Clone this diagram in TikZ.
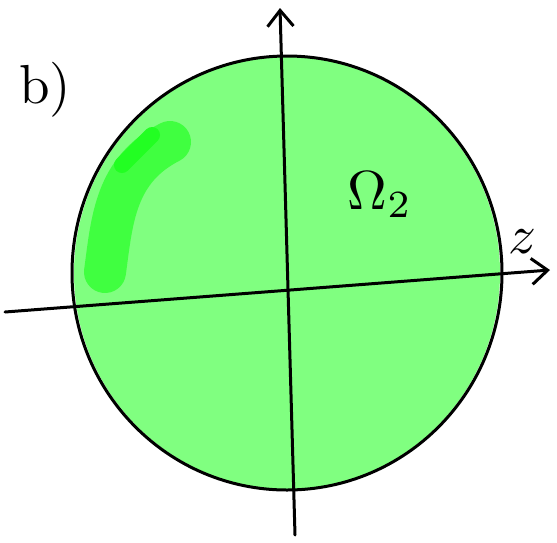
\documentclass[tikz,border=0pt]{standalone}
\usepackage{tikz}
\usetikzlibrary{arrows.meta}

\definecolor{paleGreen}{HTML}{80FF80}
\definecolor{midGreen}{HTML}{40FF40}
\definecolor{deepGreen}{HTML}{22FF22}
\newcommand{\handsize}[1]{\scalebox{5.5}{#1}}

\begin{document}
\begin{tikzpicture}[x=1pt,y=-1pt,>={Straight Barb[length=16pt,width=26pt,line width=3pt]},
axis/.style={draw,line width=3pt,line cap=round,->},
ink/.style={inner sep=0pt}]
\useasboundingbox (0,0) rectangle (557,542);
% green region
\fill[paleGreen] (287,273) ellipse [x radius=213,y radius=216];
\draw[midGreen,line width=42pt,line cap=round] (105,272) .. controls (112,220) and (115,170) .. (170,142);
\draw[deepGreen,line width=16pt,line cap=round] (122,165) -- (152,135);
\draw[line width=3pt] (287,273) ellipse [x radius=215,y radius=217];
% axes
\coordinate (xs) at (5,312);
\coordinate (xe) at (550,270);
\coordinate (ys) at (295,535);
\coordinate (ye) at (280,8);
\draw[axis] (xs) -- (xe);
\draw[axis] (ys) -- (ye);
% labels
\node[ink] (tag) at (45,90) {\handsize{b)}};
\node[ink] (omega) at (380,195) {\handsize{$\Omega_2$}};
\node[ink] (zlab) at (522,242) {\handsize{$z$}};
\end{tikzpicture}
\end{document}
